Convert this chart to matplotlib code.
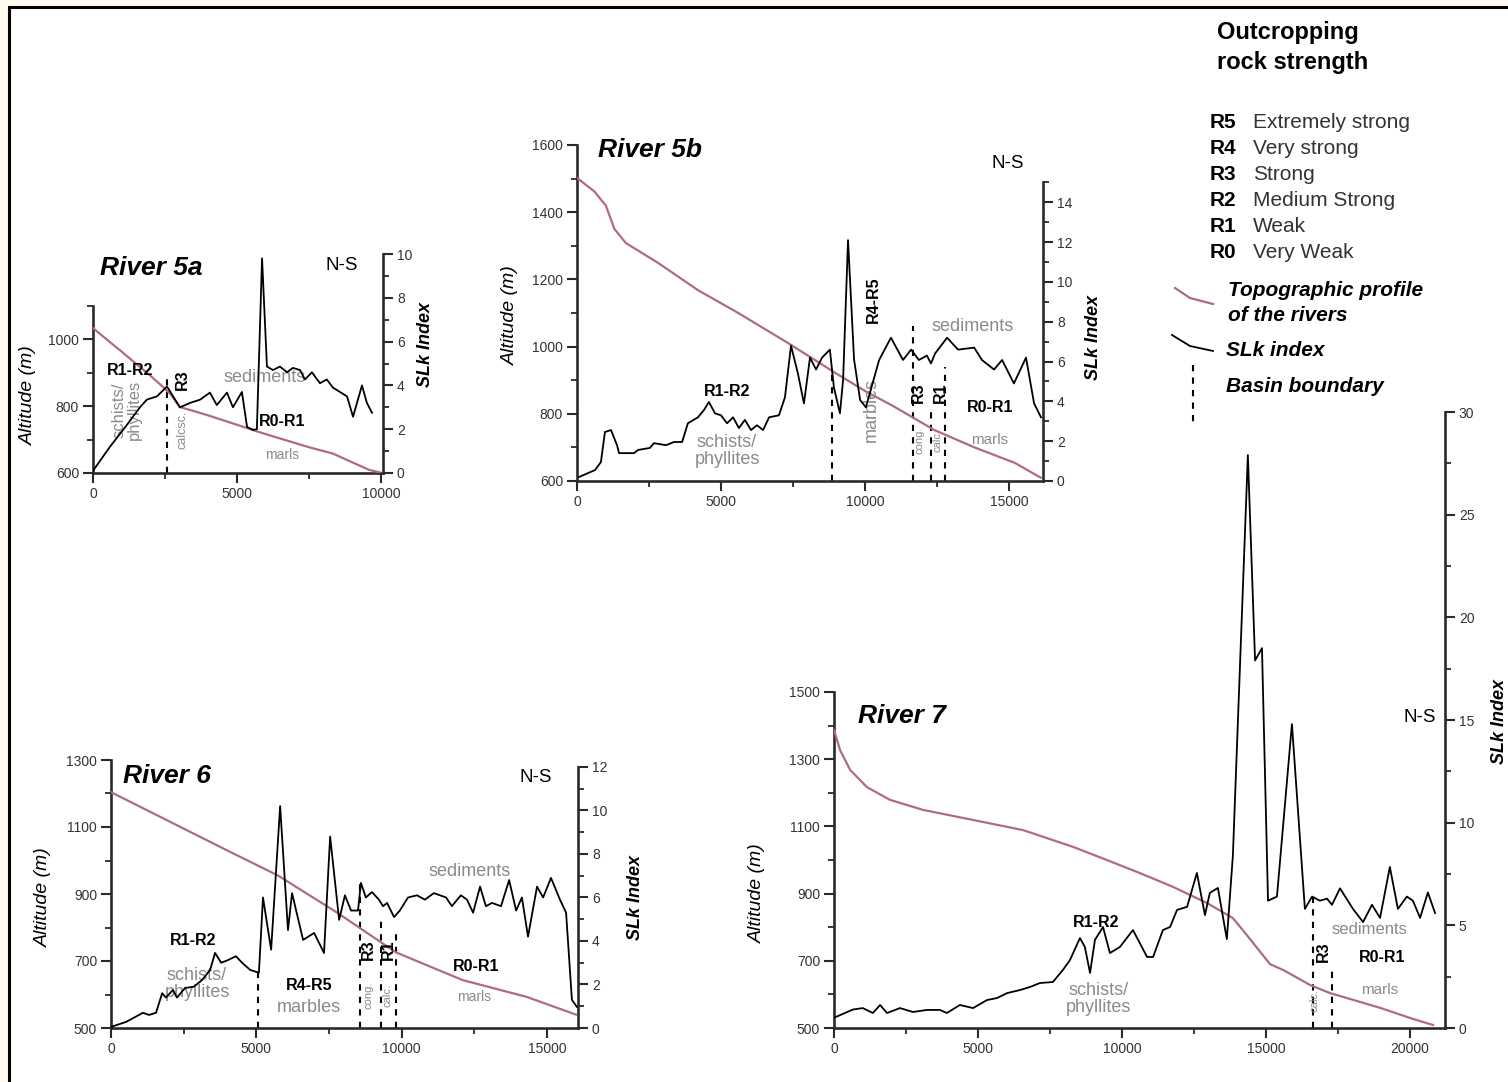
import matplotlib
matplotlib.use('Agg')
import matplotlib.pyplot as plt
from matplotlib.patches import Rectangle
from matplotlib.lines import Line2D

plt.rcParams['font.family'] = ['Liberation Sans', 'DejaVu Sans']

# ---------------- DATA ----------------
# River 5a
r5a_topo_x = [0, 500, 1000, 1500, 2000, 2430, 2700, 3010, 3500, 4000, 4500, 5000, 5560, 6000, 6500, 7000, 7500, 8330, 9000, 9600, 9950]
r5a_topo_alt = [1033, 997, 962, 926, 890, 857, 835, 797, 785, 772, 758, 744, 728, 716, 703, 690, 677, 658, 632, 609, 602]
r5a_slk_x = [0, 590, 1180, 1630, 1870, 2220, 2570, 2780, 3020, 3370, 3720, 4060, 4300, 4650, 4860, 5170, 5350, 5560, 5690, 5870, 6040, 6250, 6490, 6740, 6940, 7190, 7360, 7600, 7880, 8120, 8330, 8820, 9030, 9340, 9510, 9690]
r5a_slk = [0.1, 1.2, 2.2, 3.0, 3.35, 3.5, 3.95, 3.5, 3.0, 3.2, 3.35, 3.67, 3.1, 3.67, 3.0, 3.7, 2.1, 1.97, 2.0, 9.8, 4.86, 4.7, 4.86, 4.6, 4.8, 4.7, 4.27, 4.6, 4.1, 4.27, 3.9, 3.5, 2.57, 4.0, 3.2, 2.75]

# River 5b
r5b_topo_x = [0, 600, 1000, 1300, 1700, 2800, 4200, 5600, 7300, 9000, 10000, 11000, 12400, 13800, 15200, 16100]
r5b_topo_alt = [1502, 1462, 1420, 1350, 1308, 1250, 1168, 1100, 1012, 920, 868, 822, 752, 700, 654, 610]
r5b_slk_x = [70, 625, 830, 970, 1180, 1390, 1460, 1980, 2120, 2530, 2670, 3090, 3370, 3650, 3850, 4200, 4410, 4580, 4790, 5000, 5210, 5420, 5620, 5830, 6040, 6250, 6460, 6670, 7010, 7220, 7430, 7670, 7880, 8090, 8300, 8510, 8780, 8920, 9130, 9240, 9410, 9620, 9830, 10030, 10490, 10900, 11320, 11600, 11870, 12150, 12290, 12430, 12850, 13230, 13790, 14060, 14480, 14760, 15170, 15590, 15870, 16110]
r5b_slk = [0.2, 0.55, 0.95, 2.46, 2.56, 1.8, 1.4, 1.4, 1.56, 1.66, 1.9, 1.8, 1.96, 1.96, 2.9, 3.2, 3.57, 3.97, 3.4, 3.3, 2.9, 3.2, 2.66, 3.07, 2.56, 2.8, 2.56, 3.2, 3.3, 4.2, 6.8, 5.4, 3.9, 6.2, 5.6, 6.2, 6.6, 4.7, 3.4, 5.1, 12.1, 6.1, 4.07, 3.7, 6.08, 7.2, 6.08, 6.6, 6.08, 6.3, 5.9, 6.4, 7.2, 6.6, 6.7, 6.08, 5.6, 6.08, 4.9, 6.2, 3.9, 3.2]

# River 6
r6_topo_x = [0, 2000, 4000, 5750, 7770, 9800, 12100, 14300, 16000]
r6_topo_alt = [1204, 1117, 1030, 955, 845, 726, 643, 593, 540]
r6_slk_x = [0, 520, 1100, 1310, 1550, 1760, 1890, 2130, 2270, 2550, 2850, 3130, 3410, 3580, 3790, 3990, 4300, 4510, 4790, 5020, 5090, 5230, 5510, 5820, 6090, 6230, 6610, 6990, 7330, 7540, 7850, 8050, 8260, 8500, 8600, 8770, 8980, 9220, 9360, 9500, 9740, 9940, 10220, 10530, 10800, 11110, 11530, 11730, 12040, 12250, 12460, 12700, 12900, 13110, 13420, 13700, 13940, 14140, 14350, 14660, 14870, 15140, 15450, 15660, 15860, 16030]
r6_slk = [0.05, 0.28, 0.7, 0.6, 0.7, 1.6, 1.4, 1.75, 1.4, 1.84, 1.9, 2.2, 2.67, 3.45, 3.0, 3.1, 3.3, 3.0, 2.67, 2.57, 2.55, 6.0, 3.6, 10.2, 4.5, 6.2, 4.05, 4.37, 3.45, 8.8, 4.97, 6.1, 5.4, 5.4, 6.67, 6.0, 6.25, 5.9, 5.6, 5.75, 5.1, 5.4, 6.0, 6.1, 5.9, 6.2, 6.0, 5.6, 6.1, 5.9, 5.3, 6.5, 5.6, 5.75, 5.6, 6.8, 5.4, 6.0, 4.2, 6.5, 6.0, 6.9, 5.9, 5.3, 1.3, 0.97]

# River 7
r7_topo_x = [0, 210, 560, 1140, 1940, 3090, 4830, 6560, 8300, 9470, 10620, 11770, 12950, 13850, 14330, 15140, 15590, 16530, 17220, 18960, 20100, 20800]
r7_topo_alt = [1387, 1327, 1268, 1217, 1179, 1149, 1119, 1089, 1039, 1000, 961, 920, 872, 827, 777, 690, 673, 628, 604, 560, 527, 509]
r7_slk_x = [0, 660, 1000, 1350, 1600, 1840, 2290, 2740, 3230, 3680, 3920, 4370, 4830, 5310, 5660, 6010, 6460, 6810, 7150, 7600, 7950, 8190, 8540, 8710, 8890, 9060, 9340, 9580, 9930, 10380, 10870, 11080, 11420, 11670, 11910, 12260, 12600, 12880, 13050, 13330, 13640, 13850, 14370, 14620, 14860, 15070, 15380, 15900, 16350, 16600, 16870, 17120, 17290, 17570, 18020, 18370, 18680, 18960, 19300, 19580, 19890, 20100, 20350, 20620, 20870]
r7_slk = [0.5, 0.9, 0.97, 0.73, 1.12, 0.73, 0.97, 0.78, 0.88, 0.88, 0.73, 1.12, 0.97, 1.36, 1.46, 1.7, 1.85, 2.0, 2.19, 2.24, 2.83, 3.3, 4.38, 3.95, 2.68, 4.29, 4.92, 3.65, 3.95, 4.77, 3.46, 3.46, 4.77, 4.92, 5.75, 5.9, 7.55, 5.5, 6.58, 6.82, 4.33, 8.4, 27.9, 17.9, 18.5, 6.2, 6.4, 14.8, 5.8, 6.4, 6.2, 6.3, 6.0, 6.8, 5.8, 5.16, 6.0, 5.36, 7.84, 5.8, 6.4, 6.2, 5.36, 6.6, 5.6]

# Basin boundaries: (distance, top altitude)
r5a_bounds = [(2570, 890)]
r5b_bounds = [(8850, 920), (11670, 1060), (12290, 822), (12780, 940)]
r6_bounds = [(5050, 675), (8570, 939), (9290, 830), (9800, 800)]
r7_bounds = [(16630, 900), (17290, 680)]

legend_codes = ['R5', 'R4', 'R3', 'R2', 'R1', 'R0']
legend_desc = ['Extremely strong', 'Very strong', 'Strong', 'Medium Strong', 'Weak', 'Very Weak']

# ---------------- STYLE ----------------
W, H = 1508, 1082
RED = '#b06c78'
GRAY = '#8a8a8a'
AXC = '#2a2a2a'

fig = plt.figure(figsize=(W / 100, H / 100), dpi=100)
fig.patch.set_facecolor('#fffcef')
fig.add_artist(Rectangle((9 / W, -0.05), 1.1, 1 - 7 / H + 0.05, transform=fig.transFigure,
                         facecolor='white', edgecolor='black', linewidth=2.2, zorder=0))


def P(px, py):
    return px / W, 1 - py / H


def make_panel(x0, x1, ytop, ybot, xlim, altlim, altb, slklim, slkb,
               xt, xm, at, am, st, sm, tx, ty, sx, sy, bounds):
    ax = fig.add_axes([x0 / W, 1 - ybot / H, (x1 - x0) / W, (ybot - ytop) / H])
    ax.patch.set_alpha(0)
    ax2 = ax.twinx()
    ax.set_xlim(*xlim)
    ax.set_ylim(*altlim)
    ax2.set_ylim(*slklim)
    ax.plot(tx, ty, color=RED, lw=1.6, zorder=3)
    ax2.plot(sx, sy, color='black', lw=1.3, zorder=4)
    for bx, btop in bounds:
        ax.plot([bx, bx], [altlim[0], btop], color='black', lw=1.5,
                ls=(0, (3, 3)), zorder=2)
    for a in (ax, ax2):
        a.spines['top'].set_visible(False)
        for s in a.spines.values():
            s.set_linewidth(1.9)
            s.set_color(AXC)
    ax.spines['right'].set_visible(False)
    ax2.spines['left'].set_visible(False)
    ax2.spines['bottom'].set_visible(False)
    ax.spines['left'].set_bounds(*altb)
    ax2.spines['right'].set_bounds(*slkb)
    ax.set_xticks(xt)
    ax.set_xticks(xm, minor=True)
    ax.set_yticks(at)
    ax.set_yticks(am, minor=True)
    ax2.set_yticks(st)
    ax2.set_yticks(sm, minor=True)
    for a in (ax, ax2):
        a.tick_params(which='major', direction='out', length=7, width=1.5,
                      color=AXC, labelsize=10, labelcolor='#333333', pad=3)
        a.tick_params(which='minor', direction='out', length=4, width=1.3, color=AXC)
    ax.set_xticklabels([str(v) for v in xt])
    ax.set_yticklabels([str(v) for v in at])
    ax2.set_yticklabels([str(v) for v in st])
    return ax, ax2


def lbl(ax, x, y, s, bold=False, color='black', size=11.5, rot=0):
    ax.text(x, y, s, ha='center', va='center', fontsize=size, rotation=rot,
            color=color, fontweight='bold' if bold else 'normal', zorder=5,
            linespacing=1.0)


# ---- River 5a ----
ax, ax2 = make_panel(93, 383, 254, 473, (0, 10070), (600, 1254), (600, 1100), (0, 10), (0, 10),
                     [0, 5000, 10000], [2500, 7500], [600, 800, 1000], [700, 900, 1100],
                     [0, 2, 4, 6, 8, 10], [1, 3, 5, 7, 9],
                     r5a_topo_x, r5a_topo_alt, r5a_slk_x, r5a_slk, r5a_bounds)
lbl(ax, 1285, 907, 'R1-R2', bold=True)
lbl(ax, 1180, 788, 'schists/\nphyllites', color=GRAY, size=12, rot=90)
lbl(ax, 3090, 878, 'R3', bold=True, rot=90)
lbl(ax, 3125, 728, 'calcsc.', color=GRAY, size=9, rot=90)
lbl(ax, 5970, 884, 'sediments', color=GRAY, size=13)
lbl(ax, 6560, 755, 'R0-R1', bold=True)
lbl(ax, 6560, 654, 'marls', color=GRAY, size=10)

# ---- River 5b ----
ax, ax2 = make_panel(577, 1043, 145, 481, (0, 16180), (600, 1600), (600, 1600), (0, 16.88), (0, 15),
                     [0, 5000, 10000, 15000], [2500, 7500, 12500], [600, 800, 1000, 1200, 1400, 1600],
                     [700, 900, 1100, 1300, 1500], [0, 2, 4, 6, 8, 10, 12, 14], [1, 3, 5, 7, 9, 11, 13, 15],
                     r5b_topo_x, r5b_topo_alt, r5b_slk_x, r5b_slk, r5b_bounds)
lbl(ax, 5210, 865, 'R1-R2', bold=True)
lbl(ax, 5210, 689, 'schists/\nphyllites', color=GRAY, size=13)
lbl(ax, 10280, 1139, 'R4-R5', bold=True, rot=90)
lbl(ax, 10210, 811, 'marbles', color=GRAY, size=13, rot=90)
lbl(ax, 13750, 1061, 'sediments', color=GRAY, size=13)
lbl(ax, 11840, 862, 'R3', bold=True, rot=90)
lbl(ax, 12600, 862, 'R1', bold=True, rot=90)
lbl(ax, 11900, 722, 'cong.', color=GRAY, size=8, rot=90)
lbl(ax, 12530, 722, 'calc.', color=GRAY, size=8, rot=90)
lbl(ax, 14340, 820, 'R0-R1', bold=True)
lbl(ax, 14340, 722, 'marls', color=GRAY, size=11)

# ---- River 6 ----
ax, ax2 = make_panel(111, 578, 760, 1028, (0, 16070), (500, 1300), (500, 1300), (0, 12.32), (0, 12),
                     [0, 5000, 10000, 15000], [2500, 7500, 12500], [500, 700, 900, 1100, 1300],
                     [600, 800, 1000, 1200], [0, 2, 4, 6, 8, 10, 12], [1, 3, 5, 7, 9, 11],
                     r6_topo_x, r6_topo_alt, r6_slk_x, r6_slk, r6_bounds)
lbl(ax, 2820, 760, 'R1-R2', bold=True)
lbl(ax, 2960, 631, 'schists/\nphyllites', color=GRAY, size=13)
lbl(ax, 6810, 628, 'R4-R5', bold=True)
lbl(ax, 6810, 560, 'marbles', color=GRAY, size=13)
lbl(ax, 12350, 966, 'sediments', color=GRAY, size=13)
lbl(ax, 8840, 733, 'R3', bold=True, rot=90)
lbl(ax, 9530, 733, 'R1', bold=True, rot=90)
lbl(ax, 8870, 598, 'cong.', color=GRAY, size=8, rot=90)
lbl(ax, 9530, 598, 'calc.', color=GRAY, size=8, rot=90)
lbl(ax, 12560, 685, 'R0-R1', bold=True)
lbl(ax, 12490, 593, 'marls', color=GRAY, size=10)

# ---- River 7 ----
ax, ax2 = make_panel(834, 1445, 412, 1028, (0, 21215), (500, 2333), (500, 1500), (0, 30), (0, 30),
                     [0, 5000, 10000, 15000, 20000], [2500, 7500, 12500, 17500],
                     [500, 700, 900, 1100, 1300, 1500], [600, 800, 1000, 1200, 1400],
                     [0, 5, 10, 15, 20, 25, 30], [2.5, 7.5, 12.5, 17.5, 22.5, 27.5],
                     r7_topo_x, r7_topo_alt, r7_slk_x, r7_slk, r7_bounds)
lbl(ax, 9100, 815, 'R1-R2', bold=True)
lbl(ax, 9170, 586, 'schists/\nphyllites', color=GRAY, size=13)
lbl(ax, 18610, 792, 'sediments', color=GRAY, size=12)
lbl(ax, 19030, 711, 'R0-R1', bold=True)
lbl(ax, 18960, 613, 'marls', color=GRAY, size=11)
lbl(ax, 16980, 726, 'R3', bold=True, rot=90)
lbl(ax, 16700, 583, 'calc.', color=GRAY, size=8, rot=90)

# ---------------- PANEL TEXTS ----------------
def ftxt(px, py, s, size, ha='left', va='center', rot=0, weight='normal', style='normal', color='black'):
    x, y = P(px, py)
    fig.text(x, y, s, ha=ha, va=va, rotation=rot, fontsize=size, fontweight=weight,
             fontstyle=style, color=color)

for (px, py, s) in [(100, 268, 'River 5a'), (598, 150, 'River 5b'), (123, 776, 'River 6'), (858, 716, 'River 7')]:
    ftxt(px, py, s, 19, weight='bold', style='italic')
for (px, py) in [(342, 265), (1008, 163), (536, 777), (1420, 718)]:
    ftxt(px, py, 'N-S', 13.5, ha='center')
for (px, py) in [(28, 395), (510, 315), (43, 897), (757, 893)]:
    ftxt(px, py, 'Altitude (m)', 14, ha='center', rot=90, style='italic')
for (px, py) in [(425, 345), (1093, 338), (636, 897), (1500, 722)]:
    ftxt(px, py, 'SLk Index', 13, ha='center', rot=90, weight='bold', style='italic')

# ---------------- LEGEND ----------------
ftxt(1217, 33, 'Outcropping', 17, weight='bold')
ftxt(1217, 62, 'rock strength', 17, weight='bold')
for i, (c, d) in enumerate(zip(legend_codes, legend_desc)):
    py = 122 + i * 26.2
    ftxt(1210, py, c, 15, weight='bold')
    ftxt(1253, py, d, 15, color='#333333')
ftxt(1228, 290, 'Topographic profile', 15, weight='bold', style='italic')
ftxt(1228, 316, 'of the rivers', 15, weight='bold', style='italic')
ftxt(1226, 350, 'SLk index', 15, weight='bold', style='italic')
ftxt(1226, 387, 'Basin boundary', 15, weight='bold', style='italic')
fig.add_artist(Line2D([1175 / W, 1190 / W, 1213 / W], [1 - 288 / H, 1 - 298 / H, 1 - 304 / H],
                      color=RED, lw=1.6, transform=fig.transFigure))
fig.add_artist(Line2D([1172 / W, 1190 / W, 1213 / W], [1 - 335 / H, 1 - 346 / H, 1 - 351 / H],
                      color='black', lw=1.3, transform=fig.transFigure))
fig.add_artist(Line2D([1193 / W, 1193 / W], [1 - 365 / H, 1 - 422 / H], color='black', lw=1.5,
                      ls=(0, (3, 3)), transform=fig.transFigure))

fig.savefig('out.png', dpi=100, facecolor=fig.get_facecolor())
